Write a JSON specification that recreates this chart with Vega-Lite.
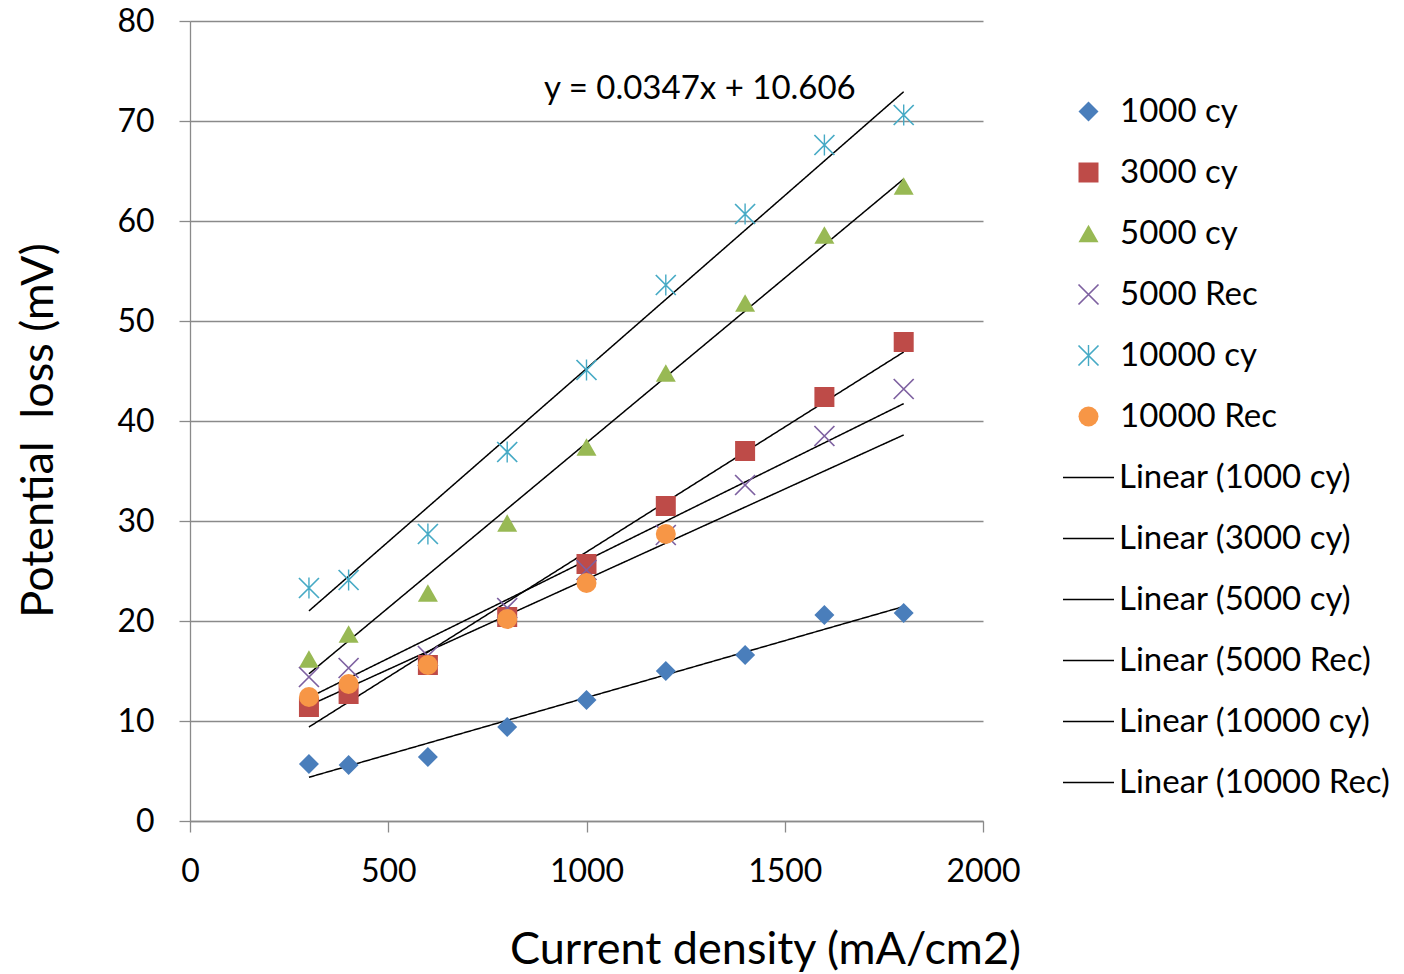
{
  "$schema": "https://vega.github.io/schema/vega-lite/v6.json",
  "width": 793,
  "height": 800,
  "autosize": {"type": "none"},
  "padding": {"left": 190, "top": 21, "right": 421, "bottom": 153},
  "background": "white",
  "config": {
    "view": {"stroke": null},
    "font": "Lato",
    "axis": {
      "labelFont": "Lato",
      "labelFontSize": 32,
      "labelColor": "#000000",
      "labelFlush": false,
      "format": "d",
      "titleFont": "Lato",
      "titleFontSize": 45,
      "titleFontWeight": "normal",
      "titleColor": "#000000",
      "domainColor": "#8a8a8a",
      "domainWidth": 1.3,
      "tickColor": "#8a8a8a",
      "tickWidth": 1.3,
      "tickSize": 11,
      "gridColor": "#8a8a8a",
      "gridWidth": 1.3
    },
    "legend": {"padding": 0, "labelFont": "Lato", "labelFontSize": 33, "labelColor": "#000000", "labelLimit": 400}
  },
  "datasets": {
    "pts": [
      {"series": "1000 cy", "fit": "Linear (1000 cy)", "x": 300, "y": 5.7},
      {"series": "1000 cy", "fit": "Linear (1000 cy)", "x": 400, "y": 5.6},
      {"series": "1000 cy", "fit": "Linear (1000 cy)", "x": 600, "y": 6.4},
      {"series": "1000 cy", "fit": "Linear (1000 cy)", "x": 800, "y": 9.4},
      {"series": "1000 cy", "fit": "Linear (1000 cy)", "x": 1000, "y": 12.1},
      {"series": "1000 cy", "fit": "Linear (1000 cy)", "x": 1200, "y": 15.0},
      {"series": "1000 cy", "fit": "Linear (1000 cy)", "x": 1400, "y": 16.6},
      {"series": "1000 cy", "fit": "Linear (1000 cy)", "x": 1600, "y": 20.6},
      {"series": "1000 cy", "fit": "Linear (1000 cy)", "x": 1800, "y": 20.8},
      {"series": "3000 cy", "fit": "Linear (3000 cy)", "x": 300, "y": 11.4},
      {"series": "3000 cy", "fit": "Linear (3000 cy)", "x": 400, "y": 12.7},
      {"series": "3000 cy", "fit": "Linear (3000 cy)", "x": 600, "y": 15.6},
      {"series": "3000 cy", "fit": "Linear (3000 cy)", "x": 800, "y": 20.4},
      {"series": "3000 cy", "fit": "Linear (3000 cy)", "x": 1000, "y": 25.7},
      {"series": "3000 cy", "fit": "Linear (3000 cy)", "x": 1200, "y": 31.5},
      {"series": "3000 cy", "fit": "Linear (3000 cy)", "x": 1400, "y": 37.0},
      {"series": "3000 cy", "fit": "Linear (3000 cy)", "x": 1600, "y": 42.4},
      {"series": "3000 cy", "fit": "Linear (3000 cy)", "x": 1800, "y": 47.9},
      {"series": "5000 cy", "fit": "Linear (5000 cy)", "x": 300, "y": 16.2},
      {"series": "5000 cy", "fit": "Linear (5000 cy)", "x": 400, "y": 18.7},
      {"series": "5000 cy", "fit": "Linear (5000 cy)", "x": 600, "y": 22.8},
      {"series": "5000 cy", "fit": "Linear (5000 cy)", "x": 800, "y": 29.8},
      {"series": "5000 cy", "fit": "Linear (5000 cy)", "x": 1000, "y": 37.4},
      {"series": "5000 cy", "fit": "Linear (5000 cy)", "x": 1200, "y": 44.8},
      {"series": "5000 cy", "fit": "Linear (5000 cy)", "x": 1400, "y": 51.8},
      {"series": "5000 cy", "fit": "Linear (5000 cy)", "x": 1600, "y": 58.6},
      {"series": "5000 cy", "fit": "Linear (5000 cy)", "x": 1800, "y": 63.5},
      {"series": "5000 Rec", "fit": "Linear (5000 Rec)", "x": 300, "y": 14.4},
      {"series": "5000 Rec", "fit": "Linear (5000 Rec)", "x": 400, "y": 15.3},
      {"series": "5000 Rec", "fit": "Linear (5000 Rec)", "x": 600, "y": 16.5},
      {"series": "5000 Rec", "fit": "Linear (5000 Rec)", "x": 800, "y": 21.3},
      {"series": "5000 Rec", "fit": "Linear (5000 Rec)", "x": 1000, "y": 25.1},
      {"series": "5000 Rec", "fit": "Linear (5000 Rec)", "x": 1200, "y": 28.6},
      {"series": "5000 Rec", "fit": "Linear (5000 Rec)", "x": 1400, "y": 33.6},
      {"series": "5000 Rec", "fit": "Linear (5000 Rec)", "x": 1600, "y": 38.5},
      {"series": "5000 Rec", "fit": "Linear (5000 Rec)", "x": 1800, "y": 43.2},
      {"series": "10000 cy", "fit": "Linear (10000 cy)", "x": 300, "y": 23.3},
      {"series": "10000 cy", "fit": "Linear (10000 cy)", "x": 400, "y": 24.1},
      {"series": "10000 cy", "fit": "Linear (10000 cy)", "x": 600, "y": 28.7},
      {"series": "10000 cy", "fit": "Linear (10000 cy)", "x": 800, "y": 36.9},
      {"series": "10000 cy", "fit": "Linear (10000 cy)", "x": 1000, "y": 45.1},
      {"series": "10000 cy", "fit": "Linear (10000 cy)", "x": 1200, "y": 53.6},
      {"series": "10000 cy", "fit": "Linear (10000 cy)", "x": 1400, "y": 60.7},
      {"series": "10000 cy", "fit": "Linear (10000 cy)", "x": 1600, "y": 67.6},
      {"series": "10000 cy", "fit": "Linear (10000 cy)", "x": 1800, "y": 70.6},
      {"series": "10000 Rec", "fit": "Linear (10000 Rec)", "x": 300, "y": 12.4},
      {"series": "10000 Rec", "fit": "Linear (10000 Rec)", "x": 400, "y": 13.7},
      {"series": "10000 Rec", "fit": "Linear (10000 Rec)", "x": 600, "y": 15.6},
      {"series": "10000 Rec", "fit": "Linear (10000 Rec)", "x": 800, "y": 20.2},
      {"series": "10000 Rec", "fit": "Linear (10000 Rec)", "x": 1000, "y": 23.8},
      {"series": "10000 Rec", "fit": "Linear (10000 Rec)", "x": 1200, "y": 28.7}
    ],
    "note": [
      {"label": "y = 0.0347x + 10.606", "x": 1286, "y": 73.2}
    ]
  },
  "layer": [
    {
      "data": {"name": "pts"},
      "transform": [
        {"regression": "y", "on": "x", "groupby": ["fit"], "extent": [300, 1800]}
      ],
      "mark": {"type": "line", "color": "#000000", "strokeWidth": 1.5},
      "encoding": {
        "x": {"field": "x", "type": "quantitative"},
        "y": {"field": "y", "type": "quantitative"},
        "strokeDash": {
          "field": "fit",
          "type": "nominal",
          "scale": {
            "domain": ["Linear (1000 cy)", "Linear (3000 cy)", "Linear (5000 cy)", "Linear (5000 Rec)", "Linear (10000 cy)", "Linear (10000 Rec)"],
            "range": [[1, 0], [1, 0], [1, 0], [1, 0], [1, 0], [1, 0]]
          },
          "legend": {
            "title": null,
            "orient": "none",
            "legendX": 872,
            "legendY": 430,
            "symbolType": "stroke",
            "symbolSize": 2601,
            "symbolStrokeColor": "#000000",
            "symbolStrokeWidth": 1.5,
            "labelOffset": 4,
            "rowPadding": 17
          }
        }
      }
    },
    {
      "data": {"name": "pts"},
      "mark": {"type": "point", "filled": true, "opacity": 1, "size": 400, "strokeWidth": 0},
      "encoding": {
        "x": {
          "field": "x",
          "type": "quantitative",
          "scale": {"domain": [0, 2000], "nice": false, "zero": true},
          "axis": {
            "title": "Current density (mA/cm2)",
            "values": [0, 500, 1000, 1500, 2000],
            "grid": false,
            "labelPadding": 24,
            "titleX": 575,
            "titleY": 142,
            "titleBaseline": "alphabetic",
            "titleAnchor": null
          }
        },
        "y": {
          "field": "y",
          "type": "quantitative",
          "scale": {"domain": [0, 80], "nice": false},
          "axis": {
            "title": "Potential\u00a0 loss (mV)",
            "values": [0, 10, 20, 30, 40, 50, 60, 70, 80],
            "grid": true,
            "labelPadding": 25,
            "titleX": -152,
            "titleY": 409,
            "titleAngle": -90,
            "titleBaseline": "middle",
            "titleAlign": "center"
          }
        },
        "color": {
          "field": "series",
          "type": "nominal",
          "scale": {
            "domain": ["1000 cy", "3000 cy", "5000 cy", "5000 Rec", "10000 cy", "10000 Rec"],
            "range": ["#4a7ebb", "#be4b48", "#98b954", "#7d60a0", "#46aac5", "#f79646"]
          },
          "legend": {
            "title": null,
            "orient": "none",
            "legendX": 882,
            "legendY": 74,
            "symbolSize": 400,
            "symbolStrokeWidth": 0,
            "labelOffset": 15,
            "rowPadding": 27
          }
        },
        "shape": {
          "field": "series",
          "type": "nominal",
          "scale": {
            "domain": ["1000 cy", "3000 cy", "5000 cy", "5000 Rec", "10000 cy", "10000 Rec"],
            "range": [
              "diamond",
              "square",
              "triangle-up",
              "M-0.94,-1.06L1.06,0.94L0.94,1.06L-1.06,-0.94ZM-1.06,0.94L0.94,-1.06L1.06,-0.94L-0.94,1.06Z",
              "M-0.94,-1.06L1.06,0.94L0.94,1.06L-1.06,-0.94ZM-1.06,0.94L0.94,-1.06L1.06,-0.94L-0.94,1.06ZM0.07,-1.05L0.07,1.05L-0.07,1.05L-0.07,-1.05Z",
              "circle"
            ]
          }
        }
      }
    },
    {
      "data": {"name": "note"},
      "mark": {"type": "text", "font": "Lato", "fontSize": 33, "color": "#000000", "align": "center", "baseline": "middle"},
      "encoding": {
        "x": {"field": "x", "type": "quantitative"},
        "y": {"field": "y", "type": "quantitative"},
        "text": {"field": "label"}
      }
    }
  ]
}
